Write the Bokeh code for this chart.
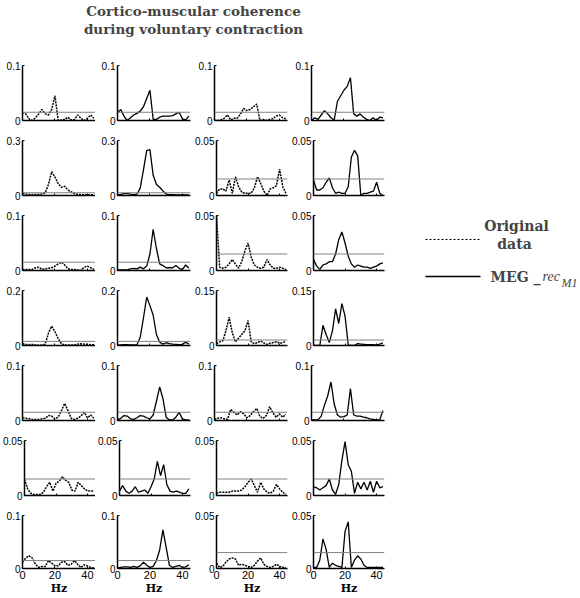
from bokeh.plotting import figure
from bokeh.models import (Range1d, Span, FixedTicker, NumeralTickFormatter, Title,
                          Label, Arrow, ColumnDataSource)
from bokeh.layouts import row, column
from bokeh.embed import file_html
from bokeh.resources import INLINE

TITLE_LINES = ["Cortico-muscular coherence", "during voluntary contraction"]
LEGEND_ORIG = ["Original", "data"]
LEGEND_MEG = ["MEG _", "rec", "M1"]
X_LABEL = "Hz"
X_TICKS = [0, 20, 40]
THRESH = 0.015

FREQ = [0, 2, 4, 6, 8, 10, 12, 14, 16, 18, 20, 22, 24, 26, 28, 30, 32, 34, 36, 38, 40, 42, 44]

# columns: original (A), MEG rec (A), original (B), MEG rec (B)
ROW1_ORIG_A = [0.015, 0.012, 0.003, 0.0, 0.005, 0.012, 0.02, 0.012, 0.01, 0.02, 0.045, 0.0, 0.001, 0.002, 0.006, 0.001, 0.002, 0.01, 0.004, 0.0, 0.004, 0.01, 0.004]
ROW1_MEG_A = [0.014, 0.02, 0.008, 0.0, 0.005, 0.01, 0.013, 0.017, 0.025, 0.04, 0.055, 0.002, 0.002, 0.006, 0.008, 0.008, 0.008, 0.009, 0.012, 0.015, 0.003, 0.001, 0.008]
ROW1_ORIG_B = [0.0, 0.0, 0.001, 0.004, 0.01, 0.001, 0.004, 0.004, 0.012, 0.022, 0.018, 0.02, 0.025, 0.03, 0.0, 0.002, 0.0, 0.002, 0.003, 0.008, 0.01, 0.005, 0.003]
ROW1_MEG_B = [0.0, 0.005, 0.002, 0.01, 0.018, 0.012, 0.005, 0.001, 0.035, 0.045, 0.055, 0.062, 0.078, 0.012, 0.008, 0.012, 0.006, 0.002, 0.0, 0.005, 0.0, 0.006, 0.005]

ROW2_ORIG_A = [0.012, 0.008, 0.006, 0.005, 0.005, 0.006, 0.008, 0.015, 0.06, 0.13, 0.1, 0.065, 0.045, 0.05, 0.03, 0.02, 0.01, 0.006, 0.005, 0.004, 0.004, 0.004, 0.004]
ROW2_MEG_A = [0.005, 0.006, 0.01, 0.01, 0.007, 0.005, 0.008, 0.04, 0.14, 0.245, 0.25, 0.11, 0.06, 0.045, 0.025, 0.008, 0.004, 0.004, 0.003, 0.003, 0.003, 0.003, 0.003]
ROW2_ORIG_B = [0.002, 0.006, 0.006, 0.004, 0.014, 0.002, 0.017, 0.008, 0.003, 0.002, 0.002, 0.002, 0.007, 0.017, 0.011, 0.004, 0.0, 0.006, 0.007, 0.009, 0.024, 0.008, 0.002]
ROW2_MEG_B = [0.014, 0.005, 0.005, 0.007, 0.012, 0.016, 0.007, 0.002, 0.003, 0.002, 0.002, 0.008, 0.035, 0.041, 0.036, 0.0, 0.002, 0.002, 0.003, 0.004, 0.012, 0.002, 0.0]

ROW3_ORIG_A = [0.002, 0.002, 0.002, 0.002, 0.005, 0.006, 0.002, 0.003, 0.004, 0.005, 0.008, 0.012, 0.015, 0.01, 0.003, 0.002, 0.002, 0.001, 0.0, 0.006, 0.008, 0.005, 0.002]
ROW3_MEG_A = [0.001, 0.001, 0.001, 0.001, 0.003, 0.004, 0.003, 0.006, 0.003, 0.008, 0.03, 0.075, 0.04, 0.012, 0.009, 0.005, 0.005, 0.005, 0.009, 0.004, 0.002, 0.01, 0.004]
ROW3_ORIG_B = [0.05, 0.003, 0.002, 0.003, 0.006, 0.01, 0.006, 0.002, 0.008, 0.018, 0.025, 0.012, 0.005, 0.003, 0.002, 0.003, 0.01, 0.005, 0.002, 0.002, 0.003, 0.002, 0.001]
ROW3_MEG_B = [0.01, 0.004, 0.001, 0.005, 0.006, 0.008, 0.008, 0.015, 0.028, 0.035, 0.025, 0.013, 0.006, 0.003, 0.005, 0.004, 0.003, 0.003, 0.002, 0.003, 0.004, 0.006, 0.007]

ROW4_ORIG_A = [0.006, 0.004, 0.003, 0.004, 0.002, 0.001, 0.002, 0.005, 0.045, 0.07, 0.05, 0.025, 0.006, 0.002, 0.002, 0.002, 0.002, 0.005, 0.006, 0.005, 0.004, 0.003, 0.003]
ROW4_MEG_A = [0.002, 0.002, 0.003, 0.003, 0.002, 0.002, 0.003, 0.03, 0.1, 0.176, 0.145, 0.11, 0.04, 0.012, 0.005, 0.01, 0.007, 0.005, 0.004, 0.003, 0.004, 0.012, 0.005]
ROW4_ORIG_B = [0.005, 0.01, 0.013, 0.04, 0.077, 0.035, 0.01, 0.02, 0.03, 0.04, 0.068, 0.01, 0.005, 0.008, 0.012, 0.007, 0.003, 0.006, 0.008, 0.01, 0.006, 0.008, 0.012]
ROW4_MEG_B = [0.0, 0.0, 0.0, 0.055, 0.03, 0.008, 0.04, 0.1, 0.06, 0.114, 0.08, 0.002, 0.0, 0.0, 0.005, 0.004, 0.003, 0.002, 0.002, 0.002, 0.001, 0.004, 0.007]

ROW5_ORIG_A = [0.005, 0.004, 0.003, 0.002, 0.002, 0.002, 0.003, 0.004, 0.009, 0.008, 0.003, 0.006, 0.018, 0.031, 0.018, 0.004, 0.002, 0.004, 0.008, 0.015, 0.005, 0.01, 0.004]
ROW5_MEG_A = [0.001, 0.004, 0.009, 0.008, 0.003, 0.002, 0.005, 0.009, 0.008, 0.005, 0.003, 0.01, 0.035, 0.061, 0.04, 0.006, 0.001, 0.001, 0.006, 0.015, 0.003, 0.001, 0.001]
ROW5_ORIG_B = [0.002, 0.004, 0.005, 0.003, 0.002, 0.02, 0.015, 0.01, 0.016, 0.012, 0.005, 0.009, 0.016, 0.022, 0.007, 0.004, 0.009, 0.025, 0.014, 0.006, 0.012, 0.006, 0.011]
ROW5_MEG_B = [0.001, 0.001, 0.001, 0.008, 0.028, 0.045, 0.07, 0.03, 0.01, 0.006, 0.007, 0.01, 0.058, 0.01, 0.008, 0.008, 0.006, 0.005, 0.003, 0.002, 0.001, 0.001, 0.018]

ROW6_ORIG_A = [0.015, 0.006, 0.002, 0.001, 0.001, 0.001, 0.003, 0.008, 0.012, 0.004, 0.011, 0.013, 0.017, 0.014, 0.012, 0.005, 0.004, 0.012, 0.009, 0.006, 0.004, 0.004, 0.004]
ROW6_MEG_A = [0.004, 0.009, 0.004, 0.002, 0.004, 0.008, 0.003, 0.004, 0.005, 0.002, 0.008, 0.015, 0.031, 0.018, 0.028, 0.01, 0.004, 0.003, 0.004, 0.003, 0.002, 0.002, 0.006]
ROW6_ORIG_B = [0.002, 0.003, 0.003, 0.003, 0.003, 0.004, 0.004, 0.004, 0.005, 0.008, 0.012, 0.015, 0.009, 0.003, 0.012, 0.006, 0.003, 0.002, 0.004, 0.01, 0.006, 0.003, 0.001]
ROW6_MEG_B = [0.008, 0.007, 0.005, 0.007, 0.009, 0.015, 0.005, 0.001, 0.01, 0.032, 0.049, 0.028, 0.022, 0.002, 0.012, 0.006, 0.012, 0.005, 0.013, 0.003, 0.013, 0.007, 0.008]

ROW7_ORIG_A = [0.012, 0.02, 0.024, 0.02, 0.008, 0.002, 0.004, 0.004, 0.015, 0.01, 0.005, 0.005, 0.012, 0.013, 0.006, 0.008, 0.015, 0.008, 0.002, 0.007, 0.005, 0.002, 0.001]
ROW7_MEG_A = [0.001, 0.002, 0.003, 0.003, 0.002, 0.004, 0.002, 0.005, 0.012, 0.006, 0.002, 0.004, 0.015, 0.035, 0.073, 0.04, 0.006, 0.002, 0.004, 0.006, 0.002, 0.003, 0.007]
ROW7_ORIG_B = [0.005, 0.001, 0.002, 0.006, 0.009, 0.01, 0.009, 0.003, 0.004, 0.003, 0.002, 0.001, 0.003, 0.007, 0.01, 0.004, 0.002, 0.001, 0.002, 0.004, 0.002, 0.001, 0.001]
ROW7_MEG_B = [0.001, 0.001, 0.008, 0.028, 0.018, 0.001, 0.005, 0.003, 0.002, 0.001, 0.035, 0.044, 0.001, 0.008, 0.012, 0.009, 0.003, 0.001, 0.001, 0.001, 0.001, 0.001, 0.001]

Y_TOP_ROW1 = [0.1, 0.1, 0.1, 0.1]
Y_TOP_ROW2 = [0.3, 0.3, 0.05, 0.05]
Y_TOP_ROW3 = [0.1, 0.1, 0.05, 0.05]
Y_TOP_ROW4 = [0.2, 0.2, 0.15, 0.15]
Y_TOP_ROW5 = [0.1, 0.1, 0.1, 0.1]
Y_TOP_ROW6 = [0.05, 0.05, 0.05, 0.05]
Y_TOP_ROW7 = [0.1, 0.1, 0.05, 0.05]

ROWS = [
    [ROW1_ORIG_A, ROW1_MEG_A, ROW1_ORIG_B, ROW1_MEG_B],
    [ROW2_ORIG_A, ROW2_MEG_A, ROW2_ORIG_B, ROW2_MEG_B],
    [ROW3_ORIG_A, ROW3_MEG_A, ROW3_ORIG_B, ROW3_MEG_B],
    [ROW4_ORIG_A, ROW4_MEG_A, ROW4_ORIG_B, ROW4_MEG_B],
    [ROW5_ORIG_A, ROW5_MEG_A, ROW5_ORIG_B, ROW5_MEG_B],
    [ROW6_ORIG_A, ROW6_MEG_A, ROW6_ORIG_B, ROW6_MEG_B],
    [ROW7_ORIG_A, ROW7_MEG_A, ROW7_ORIG_B, ROW7_MEG_B],
]
Y_TOPS = [Y_TOP_ROW1, Y_TOP_ROW2, Y_TOP_ROW3, Y_TOP_ROW4, Y_TOP_ROW5, Y_TOP_ROW6, Y_TOP_ROW7]
KINDS = ["orig", "meg", "orig", "meg"]

SANS = "Liberation Sans"
SERIF_B = "DejaVu Serif"

COL_W = [95, 97, 97, 97]
COL_RIGHT = [0, 2, 2, 2]
BORDER_L = 22
PANEL_H = 75
BOTTOM_H = 91
TITLE_H = 56
LEGEND_W = 194
TOTAL_H = TITLE_H + 6 * PANEL_H + BOTTOM_H


def make_panel(vals, ytop, kind, bottom, width, right):
    p = figure(width=width, height=BOTTOM_H if bottom else PANEL_H,
               output_backend="svg", toolbar_location=None,
               x_range=Range1d(0, 45), y_range=Range1d(0, ytop),
               min_border_left=BORDER_L, min_border_right=right, min_border_top=9,
               min_border_bottom=27 if bottom else 11)
    p.outline_line_color = None
    p.grid.visible = False
    p.background_fill_color = "white"
    p.border_fill_color = "white"
    p.add_layout(Span(location=THRESH, dimension="width", line_color="#808080", line_width=1))
    src = ColumnDataSource(dict(f=FREQ, c=vals))
    if kind == "orig":
        p.line("f", "c", source=src, line_color="black", line_width=1.5, line_dash="2 1")
    else:
        p.line("f", "c", source=src, line_color="black", line_width=1.3)

    ya = p.yaxis[0]
    ya.ticker = FixedTicker(ticks=[0, ytop])
    ya.formatter = NumeralTickFormatter(format="0.[00]")
    ya.axis_line_width = 1.5
    ya.axis_line_color = "black"
    ya.major_tick_in = 2
    ya.major_tick_out = 0
    ya.major_tick_line_color = "black"
    ya.major_label_standoff = 2
    ya.major_label_text_font = SANS
    ya.major_label_text_font_size = "10px"
    ya.major_label_text_color = "black"

    xa = p.xaxis[0]
    xa.ticker = FixedTicker(ticks=X_TICKS)
    xa.axis_line_width = 1.5
    xa.axis_line_color = "black"
    xa.major_tick_in = 2
    xa.major_tick_out = 0
    xa.major_tick_line_color = "black"
    if bottom:
        xa.major_label_standoff = 2
        xa.major_label_text_font = SANS
        xa.major_label_text_font_size = "11px"
        xa.major_label_text_color = "black"
        xa.axis_label = X_LABEL
        xa.axis_label_standoff = 0
        xa.axis_label_text_font = SERIF_B
        xa.axis_label_text_font_style = "bold"
        xa.axis_label_text_font_size = "11px"
        xa.axis_label_text_color = "black"
    else:
        xa.major_label_standoff = 0
        xa.major_label_text_font_size = "1px"
        xa.major_label_text_color = None
    return p


# title strip (the figure's own title is drawn outermost)
tp = figure(width=sum(COL_W), height=TITLE_H, output_backend="svg", toolbar_location=None,
            x_axis_type=None, y_axis_type=None, min_border=0,
            x_range=Range1d(0, 1), y_range=Range1d(0, 1), title=TITLE_LINES[0])
tp.outline_line_color = None
tp.title.align = "center"
tp.title.text_font = SERIF_B
tp.title.text_font_style = "bold"
tp.title.text_font_size = "13.5px"
tp.title.standoff = 0
tp.add_layout(Title(text=TITLE_LINES[1], align="center", text_font=SERIF_B,
                    text_font_style="bold", text_font_size="13.5px", standoff=1), "above")

rows = []
for r, (vals_row, tops_row) in enumerate(zip(ROWS, Y_TOPS)):
    bottom = (r == len(ROWS) - 1)
    rows.append(row(*[make_panel(v, t, k, bottom, w, rr)
                      for v, t, k, w, rr in zip(vals_row, tops_row, KINDS, COL_W, COL_RIGHT)]))

left = column(tp, *rows)

# legend strip: its data units are pixels from the strip's top-left corner
lp = figure(width=LEGEND_W, height=TOTAL_H, output_backend="svg", toolbar_location=None,
            x_axis_type=None, y_axis_type=None, min_border=0,
            x_range=Range1d(0, LEGEND_W), y_range=Range1d(TOTAL_H, 0))
lp.outline_line_color = None
lp.add_layout(Arrow(end=None, x_start=39, y_start=239, x_end=94, y_end=239,
                    line_color="black", line_width=1.2, line_dash="2 2"))
lp.add_layout(Arrow(end=None, x_start=39, y_start=276, x_end=94, y_end=276,
                    line_color="black", line_width=1.5))

lp.add_layout(Label(x=130, y=225, text=LEGEND_ORIG[0], text_align="center", text_baseline="middle",
                    text_font=SERIF_B, text_font_style="bold", text_font_size="14px"))
lp.add_layout(Label(x=128, y=243, text=LEGEND_ORIG[1], text_align="center", text_baseline="middle",
                    text_font=SERIF_B, text_font_style="bold", text_font_size="14px"))
lp.add_layout(Label(x=104, y=276, text=LEGEND_MEG[0], text_align="left", text_baseline="middle",
                    text_font=SERIF_B, text_font_style="bold", text_font_size="14px"))
lp.add_layout(Label(x=156, y=276, text=LEGEND_MEG[1], text_align="left", text_baseline="middle",
                    text_font="Liberation Serif", text_font_style="italic", text_font_size="14px"))
lp.add_layout(Label(x=175, y=282, text=LEGEND_MEG[2], text_align="left", text_baseline="middle",
                    text_font="Liberation Serif", text_font_style="italic", text_font_size="12px"))

layout = row(left, lp)
open("out.html", "w").write(file_html(layout, INLINE))
